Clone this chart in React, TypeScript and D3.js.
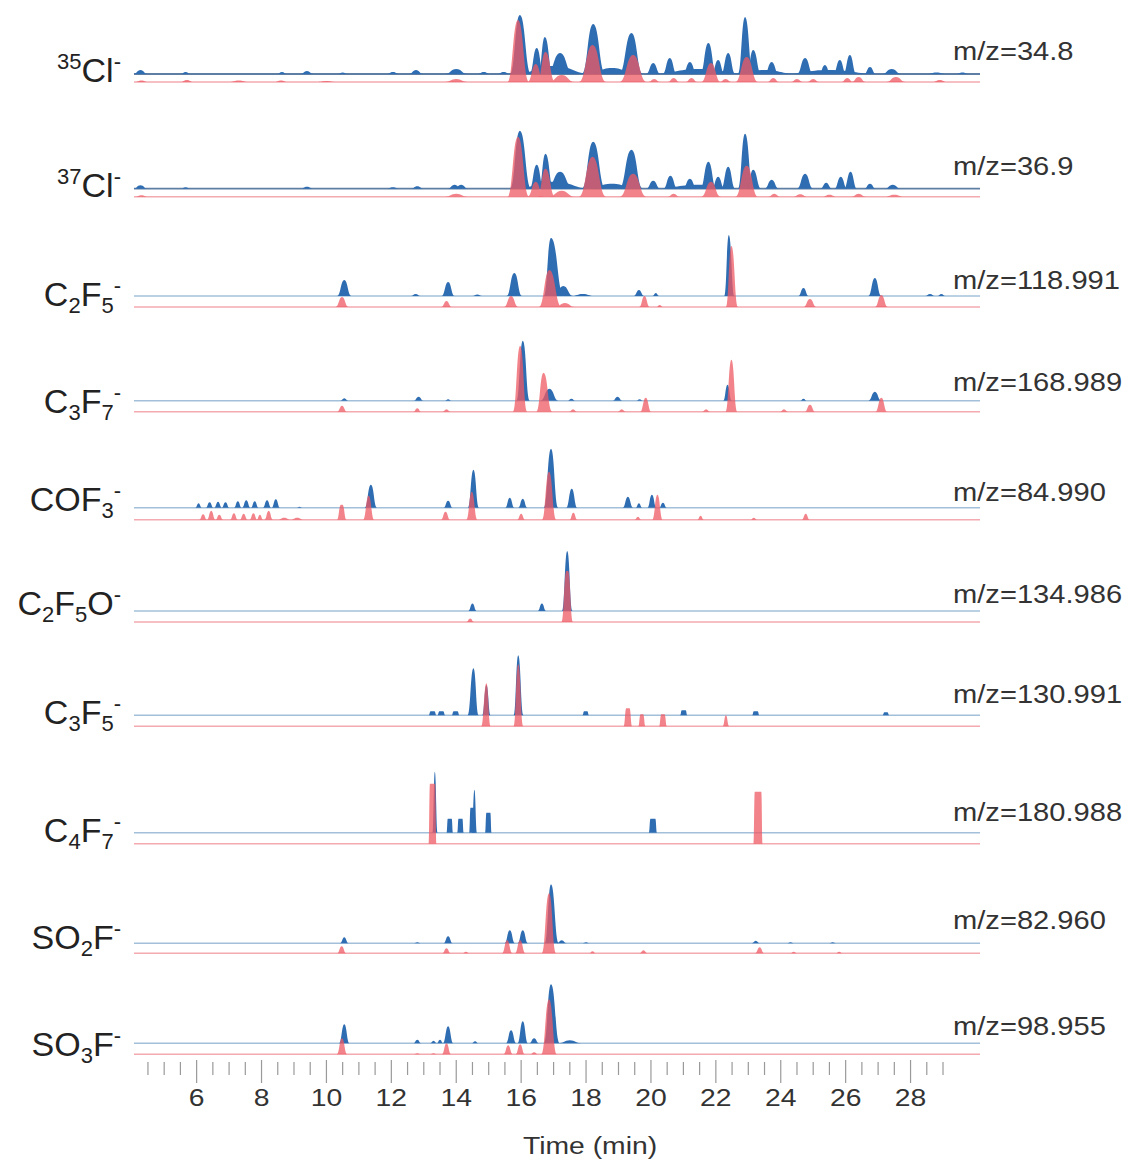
import React from "react";
import * as d3 from "d3";

// retention time window of the extracted ion chromatograms (min)
const TIME_DOMAIN = [4.07, 30.14];
const TICK_START = 4.5;
const TICK_END = 29;
const TICK_STEP = 0.5;
const TICK_LABELS = [6, 8, 10, 12, 14, 16, 18, 20, 22, 24, 26, 28];

// ion labels: [text, 0 normal | -1 subscript | 1 superscript]
const ION_LABELS = [
  [["35", 1], ["Cl", 0], ["-", 1]],
  [["37", 1], ["Cl", 0], ["-", 1]],
  [["C", 0], ["2", -1], ["F", 0], ["5", -1], ["-", 1]],
  [["C", 0], ["3", -1], ["F", 0], ["7", -1], ["-", 1]],
  [["COF", 0], ["3", -1], ["-", 1]],
  [["C", 0], ["2", -1], ["F", 0], ["5", -1], ["O", 0], ["-", 1]],
  [["C", 0], ["3", -1], ["F", 0], ["5", -1], ["-", 1]],
  [["C", 0], ["4", -1], ["F", 0], ["7", -1], ["-", 1]],
  [["SO", 0], ["2", -1], ["F", 0], ["-", 1]],
  [["SO", 0], ["3", -1], ["F", 0], ["-", 1]],
];

const MZ_VALUES = ["34.8", "36.9", "118.991", "168.989", "84.990", "134.986", "130.991", "180.988", "82.960", "98.955"];

// peaks: [apex time, relative intensity, left width, right width, flat top width]
const cl35Sample = [
  [4.27, 4, 0.22], [5.66, 2, 0.15], [8.63, 2, 0.15], [9.4, 3, 0.2], [10.5, 1.5, 0.15], [12.05, 2, 0.2],
  [12.76, 4, 0.22], [14.0, 5, 0.35], [14.85, 2, 0.2], [15.46, 2, 0.2],
  [15.96, 59, 0.3, 0.35], [16.48, 26, 0.22], [16.73, 37, 0.2, 0.25], [17.0, 8, 1.2], [17.2, 21, 0.4],
  [18.22, 50, 0.35, 0.38], [18.8, 6, 0.8], [19.4, 41, 0.38, 0.35], [20.07, 11, 0.22], [20.58, 16, 0.22],
  [21.2, 12, 0.22], [21.5, 5, 1.5], [21.77, 31, 0.25], [22.07, 14, 0.2], [22.38, 21, 0.22],
  [22.9, 57, 0.22, 0.25], [23.15, 24, 0.2, 0.25], [23.5, 4, 1.0], [23.72, 12, 0.22], [24.75, 16, 0.25],
  [25.5, 4, 1.5], [25.36, 9, 0.18], [25.82, 14, 0.2], [26.13, 19, 0.2], [26.75, 7, 0.18], [27.42, 5, 0.3],
  [28.8, 1.5, 0.3], [29.6, 1.5, 0.2],
];
const cl35Standard = [
  [4.3, 1.5, 0.2], [5.7, 2, 0.2], [7.3, 1.5, 0.3], [8.6, 1.5, 0.2], [10.0, 1, 0.3], [14.0, 3, 0.35],
  [15.9, 62, 0.32, 0.35], [16.45, 18, 0.25], [16.75, 30, 0.25, 0.3], [17.25, 7, 0.4], [18.2, 37, 0.42],
  [19.45, 27, 0.42], [20.1, 3, 0.18], [20.7, 4, 0.18], [21.25, 4, 0.18], [21.85, 19, 0.3], [22.3, 3, 0.18],
  [22.95, 25, 0.35], [23.77, 4, 0.18], [24.5, 3, 0.18], [25.0, 3, 0.18], [26.05, 4, 0.18], [26.4, 5, 0.22],
  [27.55, 5, 0.3], [28.9, 2, 0.22],
];

const cl37Sample = [
  [4.27, 3.5, 0.22], [5.66, 1.5, 0.15], [9.4, 2, 0.2], [12.05, 1.5, 0.2], [12.8, 2.5, 0.2], [13.95, 4, 0.22],
  [14.15, 4, 0.22], [15.96, 58, 0.3, 0.35], [16.48, 24, 0.22], [16.75, 35, 0.2, 0.25], [17.0, 7, 1.2],
  [17.2, 17, 0.4], [18.22, 47, 0.35, 0.38], [18.8, 5, 0.8], [19.4, 39, 0.38, 0.35], [20.07, 8, 0.22],
  [20.6, 13, 0.22], [21.2, 10, 0.22], [21.5, 4, 1.5], [21.77, 27, 0.25], [22.07, 12, 0.2], [22.38, 22, 0.22],
  [22.9, 55, 0.22, 0.25], [23.15, 19, 0.2, 0.25], [23.72, 9, 0.22], [24.75, 15, 0.25], [25.4, 6, 0.18],
  [25.85, 12, 0.2], [26.15, 17, 0.2], [26.75, 5, 0.18], [27.45, 4, 0.25],
];
const cl37Standard = [
  [4.3, 1.5, 0.2], [14.0, 3, 0.35], [15.9, 60, 0.32, 0.35], [16.45, 15, 0.25], [16.75, 28, 0.25, 0.3],
  [17.25, 6, 0.4], [18.2, 40, 0.42], [19.45, 23, 0.42], [20.7, 3, 0.18], [21.85, 15, 0.3], [22.95, 31, 0.35],
  [23.8, 3, 0.18], [24.6, 2.5, 0.22], [25.5, 2, 0.22], [26.4, 3, 0.22], [27.5, 2, 0.3],
];

const c2f5Sample = [
  [10.55, 16, 0.22], [12.75, 2, 0.15], [13.75, 14, 0.2], [14.65, 1.5, 0.15], [15.79, 23, 0.24],
  [16.92, 58, 0.22, 0.4], [17.3, 10, 0.3, 0.3], [17.9, 2, 0.35], [19.63, 6, 0.16], [20.15, 3, 0.1],
  [22.4, 61, 0.14, 0.17], [24.7, 8, 0.16], [26.9, 18, 0.2], [28.6, 2, 0.15], [28.95, 2, 0.12],
];
const c2f5Standard = [
  [10.48, 10, 0.2], [13.7, 6, 0.16], [15.69, 11, 0.22], [16.87, 37, 0.32, 0.38], [17.35, 4, 0.3],
  [19.8, 11, 0.16], [20.27, 2, 0.1], [22.48, 61, 0.17, 0.2], [24.9, 8, 0.2], [27.1, 12, 0.2],
];

const c3f7Sample = [
  [10.55, 2.5, 0.12], [12.84, 4, 0.15], [13.75, 1.5, 0.1], [16.05, 60, 0.19, 0.22], [16.87, 12, 0.28],
  [17.55, 2, 0.12], [18.97, 4, 0.15], [19.65, 1.5, 0.1], [22.36, 16, 0.13], [24.7, 2, 0.1], [26.9, 9, 0.2],
];
const c3f7Standard = [
  [10.48, 6, 0.15], [12.8, 3.5, 0.12], [13.7, 2.5, 0.12], [15.97, 66, 0.22], [16.69, 39, 0.22, 0.27],
  [17.6, 2.5, 0.12], [19.1, 2.5, 0.12], [19.84, 14, 0.17], [21.7, 2.5, 0.12], [22.48, 52, 0.18],
  [24.1, 2.5, 0.12], [24.9, 7, 0.16], [27.1, 14, 0.18],
];

const cof3Sample = [
  [6.06, 4.5, 0.1], [6.4, 5.5, 0.12], [6.66, 6, 0.12], [6.89, 5.5, 0.12], [7.27, 6.5, 0.12], [7.53, 7.5, 0.13],
  [7.79, 6.5, 0.12], [8.17, 7.5, 0.13], [8.44, 8.5, 0.13], [9.17, 1, 0.08], [11.37, 23, 0.19], [13.75, 7, 0.14],
  [14.53, 38, 0.17], [15.65, 10, 0.14], [16.05, 9, 0.14], [16.92, 59, 0.22], [17.56, 19, 0.17],
  [19.29, 11, 0.16], [19.63, 4.5, 0.1], [20.03, 13, 0.14], [20.37, 5, 0.12],
];
const cof3Standard = [
  [6.2, 5.5, 0.12], [6.45, 9, 0.13], [6.7, 5, 0.12], [7.15, 6.5, 0.12], [7.45, 6, 0.12], [7.75, 6.5, 0.12],
  [7.95, 5, 0.1], [8.22, 9, 0.13], [8.7, 2, 0.2], [9.1, 2, 0.2], [10.47, 15, 0.12, 0.12, 0.05], [11.3, 24, 0.17],
  [13.67, 8, 0.14], [14.48, 28, 0.17], [16.0, 6, 0.12], [16.86, 48, 0.22], [17.61, 7, 0.12], [19.6, 3, 0.1],
  [20.2, 25, 0.16], [21.53, 4, 0.1], [23.17, 2, 0.1], [24.77, 6, 0.12],
];

const c2f5oSample = [[14.5, 7.5, 0.13], [16.64, 7.5, 0.13], [17.42, 60, 0.16]];
const c2f5oStandard = [[14.43, 3.5, 0.12], [17.42, 51, 0.15, 0.15, 0.05]];

const c3f5Sample = [
  [13.27, 4, 0.06, 0.06, 0.12], [13.54, 4, 0.06, 0.06, 0.12], [13.98, 4, 0.06, 0.06, 0.12],
  [14.53, 47, 0.18, 0.16], [14.93, 30, 0.13], [15.91, 60, 0.14, 0.16], [17.99, 4, 0.05, 0.05, 0.1],
  [21.01, 5, 0.05, 0.05, 0.12], [23.23, 4, 0.05, 0.05, 0.12], [27.24, 3, 0.05, 0.05, 0.1],
];
const c3f5Standard = [
  [14.93, 43, 0.16, 0.13], [15.91, 62, 0.14, 0.16], [19.29, 18, 0.08, 0.08, 0.1],
  [19.72, 12, 0.07, 0.07, 0.08], [20.37, 12, 0.07, 0.07, 0.1], [22.31, 11, 0.1],
];

const c4f7Sample = [
  [13.34, 61, 0.07, 0.09], [13.8, 14, 0.04, 0.04, 0.12], [14.13, 14, 0.04, 0.04, 0.12],
  [14.5, 25, 0.04, 0.04, 0.12], [14.56, 43, 0.08], [14.99, 20, 0.04, 0.04, 0.12],
  [20.06, 14, 0.05, 0.05, 0.15],
];
const c4f7Standard = [[13.27, 60, 0.04, 0.04, 0.16], [23.3, 52, 0.04, 0.04, 0.2]];

const so2fSample = [
  [10.55, 6, 0.13], [12.8, 1, 0.1], [13.75, 7, 0.14], [15.65, 13, 0.16], [16.05, 13, 0.16],
  [16.92, 59, 0.19, 0.24], [17.25, 3, 0.15], [18.0, 1, 0.1], [23.23, 2.5, 0.12], [24.3, 1, 0.1], [25.6, 1, 0.1],
];
const so2fStandard = [
  [10.47, 7, 0.14], [13.7, 5, 0.13], [14.3, 1.5, 0.1], [15.57, 13, 0.16], [15.97, 13, 0.16],
  [16.86, 60, 0.22], [18.2, 2, 0.1], [19.77, 3, 0.12], [23.35, 6, 0.14], [24.4, 1.5, 0.1], [25.8, 1.5, 0.1],
];

const so3fSample = [
  [10.55, 19, 0.16], [12.8, 3.5, 0.12], [13.3, 2.5, 0.1], [13.5, 3.5, 0.1], [13.75, 17, 0.16],
  [14.58, 2, 0.1], [15.69, 13, 0.16], [16.05, 22, 0.16], [16.4, 5, 0.15], [16.92, 59, 0.22, 0.27],
  [17.5, 3, 0.35],
];
const so3fStandard = [
  [10.48, 16, 0.16], [12.8, 1, 0.1], [13.3, 1, 0.1], [13.7, 11, 0.14], [15.6, 9, 0.14],
  [15.97, 10, 0.14], [16.4, 2, 0.12], [16.86, 55, 0.24],
];

const SAMPLE_TRACES = [cl35Sample, cl37Sample, c2f5Sample, c3f7Sample, cof3Sample, c2f5oSample, c3f5Sample, c4f7Sample, so2fSample, so3fSample];
const STANDARD_TRACES = [cl35Standard, cl37Standard, c2f5Standard, c3f7Standard, cof3Standard, c2f5oStandard, c3f5Standard, c4f7Standard, so2fStandard, so3fStandard];

// layout
const W = 1130;
const H = 1165;
const ROW_BASE = [74, 188.7, 296, 400.7, 507.7, 611, 715.3, 832.7, 943.3, 1043.3];
const PINK_GAP = [8, 8, 11, 11, 12, 11, 11, 11, 10, 11];
const LEFT_DY = [8, 8, 10, 12, 3, 4, 9, 9, 6, 13];
const RIGHT_DY = [-14, -14, -7, -10, -7, -8, -12, -12, -14, -8];
const NOISY = [true, true, false, false, false, false, false, false, false, false];

const BLUE = "#2f6db2";
const PINK = "#ef5a63";
const FONT = "'Liberation Sans', Arial, sans-serif";

const x = d3.scaleLinear().domain(TIME_DOMAIN).range([134, 980]);
const yInt = d3.scaleLinear().domain([0, 60]).range([0, 60]);

const peakArea = d3
  .area<number[]>()
  .x((d) => x(d[0]))
  .y0(0)
  .y1((d) => -yInt(d[1]))
  .curve(d3.curveBumpX);

function peakPath(p: number[]) {
  const [t, h, wl, wrIn, flatIn] = p;
  const wr = wrIn ?? wl;
  const f = flatIn ?? 0;
  const pts =
    f > 0
      ? [[t - f / 2 - wl, 0], [t - f / 2, h], [t + f / 2, h], [t + f / 2 + wr, 0]]
      : [[t - wl, 0], [t, h], [t + wr, 0]];
  return peakArea(pts) as string;
}

function IonLabel({ parts, y }: { parts: any[]; y: number }) {
  let cur = 0;
  return (
    <text x={121} y={y} textAnchor="end" fontFamily={FONT} fontSize={34} fill="#222">
      {parts.map(([txt, mode]: [string, number], i: number) => {
        const off = mode === -1 ? 7 : mode === 1 ? -13 : 0;
        const dy = off - cur;
        cur = off;
        return (
          <tspan key={i} dy={dy} fontSize={mode === 0 ? 34 : 22}>
            {txt}
          </tspan>
        );
      })}
    </text>
  );
}

export default function App() {
  const ticks = d3.range(TICK_START, TICK_END + 0.001, TICK_STEP);
  return (
    <svg
      width={W}
      height={H}
      style={{ position: "absolute", left: 0, top: 0, background: "#fff" }}
    >
      {ROW_BASE.map((base, r) => {
        const pinkBase = base + PINK_GAP[r];
        return (
          <g key={r}>
            <line x1={x(TIME_DOMAIN[0])} x2={x(TIME_DOMAIN[1])} y1={base} y2={base}
              stroke={NOISY[r] ? "#5f7ea3" : "#a3c0da"} strokeWidth={NOISY[r] ? 1.8 : 1.4} />
            <g transform={`translate(0,${base})`}>
              {SAMPLE_TRACES[r].map((p, i) => (
                <path key={i} d={peakPath(p)} fill={BLUE} />
              ))}
            </g>
            <line x1={x(TIME_DOMAIN[0])} x2={x(TIME_DOMAIN[1])} y1={pinkBase} y2={pinkBase}
              stroke="#f3aab0" strokeWidth={1.4} />
            <g transform={`translate(0,${pinkBase})`} opacity={0.75}>
              {STANDARD_TRACES[r].map((p, i) => (
                <path key={i} d={peakPath(p)} fill={PINK} />
              ))}
            </g>
            <IonLabel parts={ION_LABELS[r]} y={base + LEFT_DY[r]} />
            <text
              transform={`translate(953,${base + RIGHT_DY[r]}) scale(1.12,1)`}
              fontFamily={FONT}
              fontSize={26}
              fill="#333"
            >
              {`m/z=${MZ_VALUES[r]}`}
            </text>
          </g>
        );
      })}

      {/* time axis */}
      <g>
        {ticks.map((t) => {
          const major = TICK_LABELS.includes(t);
          return (
            <line key={t} x1={x(t)} x2={x(t)} y1={major ? 1060 : 1062} y2={major ? 1083 : 1075}
              stroke="#9a9a9a" strokeWidth={1.2} />
          );
        })}
        {TICK_LABELS.map((t) => (
          <text key={t} transform={`translate(${x(t)},1106) scale(1.18,1)`} textAnchor="middle"
            fontFamily={FONT} fontSize={24} fill="#333">
            {t}
          </text>
        ))}
        <text transform="translate(590,1154) scale(1.18,1)" textAnchor="middle" fontFamily={FONT}
          fontSize={24} fill="#333">
          Time (min)
        </text>
      </g>
    </svg>
  );
}
